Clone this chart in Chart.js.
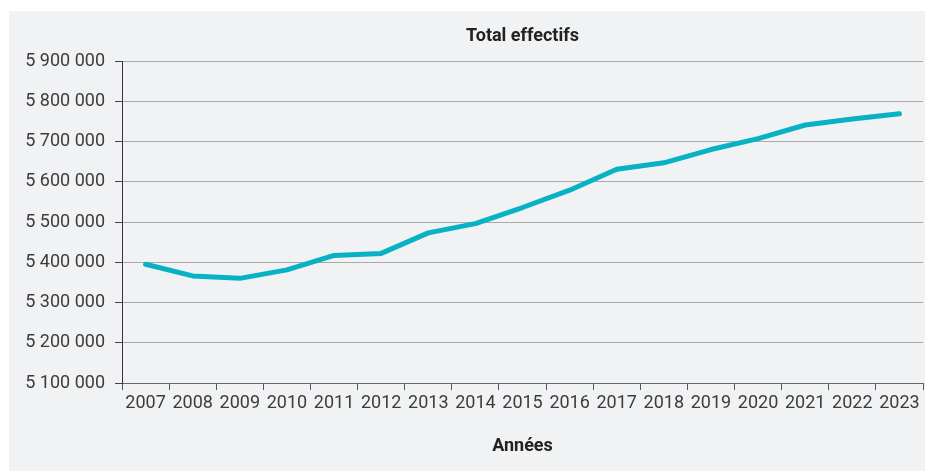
<!DOCTYPE html>
<html>
<head>
<meta charset="utf-8">
<script src="https://cdn.jsdelivr.net/npm/chart.js@4"></script>
<style>
  html, body { margin: 0; padding: 0; background: #ffffff; }
  #wrap { width: 925px; height: 471px; }
  canvas { display: block; }
</style>
</head>
<body>
<div id="wrap"><canvas id="chart" width="925" height="471"></canvas></div>
<script>
// Années (catégories)
const annees = ["2007", "2008", "2009", "2010", "2011", "2012", "2013", "2014", "2015",
  "2016", "2017", "2018", "2019", "2020", "2021", "2022", "2023"];

// Total effectifs
const effectifs = [5395000, 5366000, 5360000, 5381000, 5417000, 5422000, 5473000, 5496000,
  5536000, 5579000, 5631000, 5647000, 5680000, 5707000, 5741000, 5756000, 5769000];

// Bornes de l'axe vertical
const yMin = 5100000;
const yMax = 5900000;
const yStep = 100000;

// Format "5 900 000"
function formatNombre(v) {
  return v.toString().replace(/\B(?=(\d{3})+(?!\d))/g, " ");
}

// Fond gris du panneau
const fondPanneau = {
  id: "fondPanneau",
  beforeDraw(chart) {
    const ctx = chart.ctx;
    ctx.save();
    ctx.fillStyle = "#f1f2f4";
    ctx.fillRect(9, 11, chart.width - 9, chart.height - 11);
    ctx.restore();
  }
};

Chart.defaults.font.family = "Roboto, 'Noto Sans', sans-serif";
Chart.defaults.color = "#3c3c3c";

new Chart(document.getElementById("chart").getContext("2d"), {
  type: "line",
  data: {
    labels: annees,
    datasets: [{
      label: "Total effectifs",
      data: effectifs,
      borderColor: "#06b2c3",
      borderWidth: 5,
      borderCapStyle: "round",
      borderJoinStyle: "round",
      pointRadius: 0,
      tension: 0,
      fill: false
    }]
  },
  options: {
    responsive: false,
    animation: false,
    layout: { padding: { left: 0, right: 2, top: 0, bottom: 0 } },
    plugins: {
      legend: { display: false },
      tooltip: { enabled: false },
      title: { display: false }
    },
    scales: {
      // axe du haut, seulement pour centrer le titre sur la zone du graphique
      haut: {
        type: "category",
        position: "top",
        labels: annees,
        offset: true,
        grid: { display: false, drawTicks: false, tickLength: 0 },
        border: { display: false },
        ticks: { display: false },
        title: {
          display: true,
          text: "Total effectifs",
          color: "#222222",
          font: { size: 18, weight: "bold" },
          padding: { top: 26, bottom: 13.4 }
        }
      },
      x: {
        offset: true,
        grid: {
          offset: true,
          drawOnChartArea: false,
          tickLength: 7,
          tickColor: "#555555"
        },
        border: { color: "#666666", width: 1 },
        ticks: { font: { size: 18 }, padding: 3, maxRotation: 0, autoSkip: false },
        title: {
          display: true,
          text: "Années",
          color: "#222222",
          font: { size: 18, weight: "bold" },
          padding: { top: 18.3, bottom: 13.5 }
        }
      },
      y: {
        min: yMin,
        max: yMax,
        grid: {
          color: "#a9a9a9",
          tickLength: 7,
          tickColor: "#444444"
        },
        border: { color: "#333333", width: 1 },
        ticks: {
          stepSize: yStep,
          font: { size: 18 },
          padding: 10,
          callback: v => formatNombre(v)
        },
        afterFit(scale) { scale.width = 122; }
      }
    }
  },
  plugins: [fondPanneau]
});
</script>
</body>
</html>
